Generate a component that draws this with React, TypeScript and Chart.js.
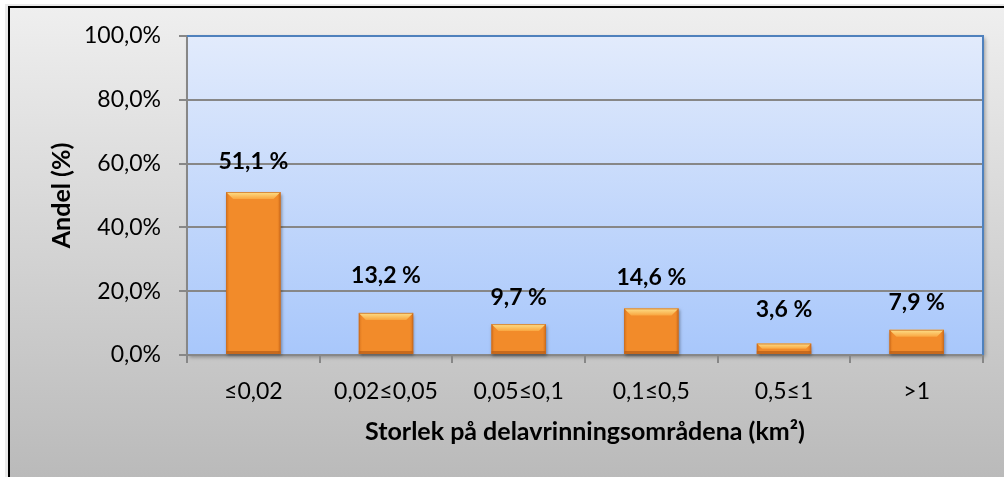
import React, { useEffect, useRef } from "react";
import { Chart, registerables } from "chart.js";

Chart.register(...registerables);

const categories: string[] = ["≤0,02", "0,02≤0,05", "0,05≤0,1", "0,1≤0,5", "0,5≤1", ">1"];
const shares: number[] = [51.1, 13.2, 9.7, 14.6, 3.6, 7.9];
const shareLabels: string[] = ["51,1 %", "13,2 %", "9,7 %", "14,6 %", "3,6 %", "7,9 %"];
const yTicks: number[] = [0, 20, 40, 60, 80, 100];
const xTitle = "Storlek på delavrinningsområdena (km²)";
const yTitle = "Andel (%)";

const labelOffsets: number[] = [30, 37, 26, 31, 34, 27];

const FONT = "Lato, 'Open Sans', sans-serif";

const backgroundPlugin = {
  id: "bgPlugin",
  beforeDraw(chart: any) {
    const { ctx, width, height, chartArea } = chart;
    ctx.save();
    ctx.fillStyle = "#ffffff";
    ctx.fillRect(0, 0, width, height);
    ctx.fillStyle = "rgba(0,0,0,0.08)";
    ctx.fillRect(5, 4, width, height);
    const g = ctx.createLinearGradient(0, 6, 0, height);
    g.addColorStop(0, "#efefef");
    g.addColorStop(1, "#bababa");
    ctx.fillStyle = g;
    ctx.fillRect(8, 6, width, height);
    ctx.fillStyle = "#000000";
    ctx.fillRect(8, 6, width, 2);
    ctx.fillRect(8, 6, 2, height);
    const { left, top, right, bottom } = chartArea;
    ctx.shadowColor = "rgba(0,0,0,0.35)";
    ctx.shadowBlur = 4;
    ctx.shadowOffsetX = 2;
    ctx.shadowOffsetY = 2;
    const pg = ctx.createLinearGradient(0, top, 0, bottom);
    pg.addColorStop(0, "#e2ebfc");
    pg.addColorStop(1, "#a8c7fb");
    ctx.fillStyle = pg;
    ctx.fillRect(left, top, right - left, bottom - top);
    ctx.restore();
  },
  afterDatasetsDraw(chart: any) {
    const { ctx, chartArea } = chart;
    const meta = chart.getDatasetMeta(0);
    ctx.save();
    meta.data.forEach((el: any, i: number) => {
      const L = el.x - el.width / 2;
      const R = el.x + el.width / 2;
      const T = el.y;
      const B = el.base;
      const h = B - T;
      const b = Math.min(7, h / 2);
      const s = Math.min(3, h / 2);
      // face with shadow
      ctx.save();
      ctx.shadowColor = "rgba(0,0,0,0.35)";
      ctx.shadowBlur = 3;
      ctx.shadowOffsetX = 1;
      ctx.shadowOffsetY = 2;
      ctx.fillStyle = "#f28b2a";
      ctx.fillRect(L, T, R - L, h);
      ctx.restore();
      // side shading
      const sg = ctx.createLinearGradient(L, 0, R, 0);
      sg.addColorStop(0, "rgba(200,100,20,0.55)");
      sg.addColorStop(0.06, "rgba(200,100,20,0)");
      sg.addColorStop(0.94, "rgba(200,100,20,0)");
      sg.addColorStop(1, "rgba(190,95,20,0.6)");
      ctx.fillStyle = sg;
      ctx.fillRect(L, T, R - L, h);
      // top bevel
      const tg = ctx.createLinearGradient(0, T, 0, T + b);
      tg.addColorStop(0, "#fde08a");
      tg.addColorStop(1, "#f9a640");
      ctx.fillStyle = tg;
      ctx.beginPath();
      ctx.moveTo(L, T);
      ctx.lineTo(R, T);
      ctx.lineTo(R - b, T + b);
      ctx.lineTo(L + b, T + b);
      ctx.closePath();
      ctx.fill();
      // bottom thin dark edge
      ctx.fillStyle = "rgba(170,85,20,0.6)";
      ctx.fillRect(L, B - s, R - L, s);
      ctx.strokeStyle = "rgba(200,105,30,0.7)";
      ctx.lineWidth = 1;
      ctx.strokeRect(L + 0.5, T + 0.5, R - L - 1, h - 1);
      // label
      ctx.fillStyle = "#000000";
      ctx.font = `bold 23px ${FONT}`;
      ctx.textAlign = "center";
      ctx.textBaseline = "middle";
      ctx.fillText(shareLabels[i], el.x, T - labelOffsets[i]);
    });
    const { left, top, right, bottom } = chartArea;
    ctx.strokeStyle = "#4f81bd";
    ctx.lineWidth = 2;
    ctx.beginPath();
    ctx.moveTo(left, top);
    ctx.lineTo(right, top);
    ctx.lineTo(right, bottom);
    ctx.stroke();
    ctx.restore();
  },
};

export default function App() {
  const canvasRef = useRef<HTMLCanvasElement | null>(null);

  useEffect(() => {
    const canvas = canvasRef.current;
    if (!canvas) return;
    const chart = new Chart(canvas, {
      type: "bar",
      data: {
        labels: categories,
        datasets: [
          {
            data: shares,
            backgroundColor: "rgba(0,0,0,0)",
            borderWidth: 0,
            barPercentage: 0.41,
            categoryPercentage: 1,
          },
        ],
      },
      plugins: [backgroundPlugin],
      options: {
        animation: false,
        responsive: false,
        devicePixelRatio: 1,
        events: [],
        layout: { padding: { top: 36, right: 21, left: 0, bottom: 0 } },
        plugins: {
          legend: { display: false },
          tooltip: { enabled: false },
          title: { display: false },
        },
        scales: {
          y: {
            min: 0,
            max: 100,
            afterBuildTicks: (scale: any) => {
              scale.ticks = yTicks.map((v) => ({ value: v }));
            },
            afterFit: (scale: any) => {
              scale.width = 187;
            },
            ticks: {
              callback: (v: any) => Number(v).toFixed(1).replace(".", ",") + "%",
              color: "#000000",
              font: { family: FONT, size: 23 },
              padding: 18,
            },
            grid: {
              color: "#878787",
              lineWidth: 2,
              tickLength: 8,
            },
            border: { color: "#878787", width: 2 },
            title: {
              display: true,
              text: yTitle,
              color: "#000000",
              font: { family: FONT, size: 25, weight: "bold" },
              padding: { top: 47, bottom: 0 },
            },
          },
          x: {
            afterFit: (scale: any) => {
              scale.height = 122;
            },
            ticks: {
              color: "#000000",
              font: { family: FONT, size: 23 },
              padding: 15,
            },
            grid: {
              drawOnChartArea: false,
              drawTicks: true,
              tickLength: 8,
              color: "#878787",
              lineWidth: 2,
            },
            border: { color: "#878787", width: 2 },
            title: {
              display: true,
              text: xTitle,
              color: "#000000",
              font: { family: FONT, size: 25, weight: "bold" },
              padding: { top: 0, bottom: 30 },
            },
          },
        },
      },
    } as any);
    return () => chart.destroy();
  }, []);

  return (
    <div style={{ position: "fixed", left: 0, top: 0, width: 1004, height: 477 }}>
      <canvas ref={canvasRef} width={1004} height={477} style={{ display: "block" }} />
    </div>
  );
}
